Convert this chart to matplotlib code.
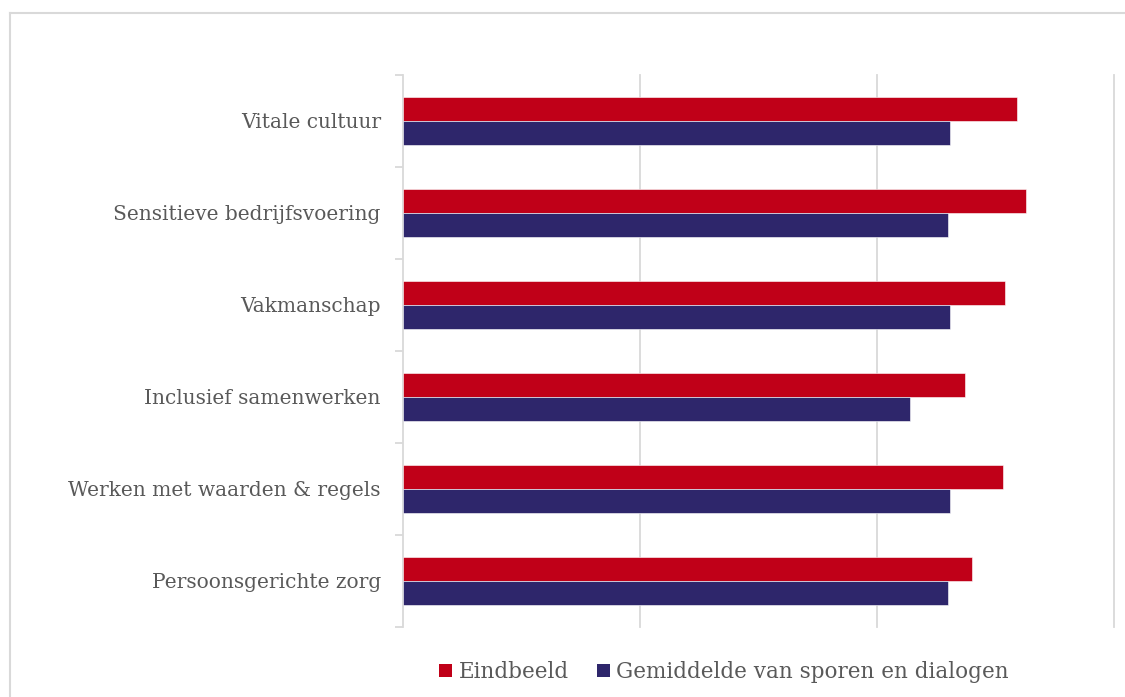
import matplotlib
matplotlib.use("Agg")
import matplotlib.pyplot as plt
from matplotlib.patches import Patch
from matplotlib.lines import Line2D
import numpy as np

categories = ["Vitale cultuur", "Sensitieve bedrijfsvoering", "Vakmanschap",
              "Inclusief samenwerken", "Werken met waarden & regels",
              "Persoonsgerichte zorg"]
eindbeeld = [2.59, 2.63, 2.54, 2.37, 2.53, 2.40]
gemiddelde = [2.31, 2.30, 2.31, 2.14, 2.31, 2.30]
series_names = ["Eindbeeld", "Gemiddelde van sporen en dialogen"]

RED = "#C00018"
BLUE = "#2E266B"
GRID = "#D9D9D9"
TXT = "#595959"
FONT = "DejaVu Serif"

W, H = 1125, 697
fig = plt.figure(figsize=(W / 100, H / 100), dpi=100)
ax = fig.add_axes([403 / W, 70 / H, 711 / W, 552 / H])

y = np.arange(len(categories))
h = 0.26
ax.barh(y - h / 2, eindbeeld, height=h, color=RED, edgecolor="white", linewidth=0.4, zorder=3)
ax.barh(y + h / 2, gemiddelde, height=h, color=BLUE, edgecolor="white", linewidth=0.4, zorder=3)

ax.set_xlim(0, 3)
ax.set_ylim(len(categories) - 0.5, -0.5)
ax.set_yticks(y)
ax.set_yticklabels(categories, fontsize=14.5, color=TXT, family=FONT)
ax.set_yticks(np.arange(-0.5, len(categories), 1), minor=True)
ax.tick_params(axis="y", which="major", length=0, pad=16)
ax.tick_params(axis="y", which="minor", length=6, width=1.3, color=GRID)
ax.set_xticks([1, 2, 3])
ax.set_xticklabels([])
ax.tick_params(axis="x", length=0)
ax.grid(axis="x", color=GRID, linewidth=1.3, zorder=0)
for s in ["top", "right", "bottom"]:
    ax.spines[s].set_visible(False)
ax.spines["left"].set_color(GRID)
ax.spines["left"].set_linewidth(1.3)
for gl in ax.get_xgridlines():
    gl.set_clip_on(False)

# outer frame
fig.add_artist(Line2D([10 / W, 1.0], [1 - 13 / H, 1 - 13 / H], color=GRID, linewidth=1.5, transform=fig.transFigure))
fig.add_artist(Line2D([10 / W, 10 / W], [0, 1 - 13 / H], color=GRID, linewidth=1.5, transform=fig.transFigure))

handles = [Patch(facecolor=RED, edgecolor="none"), Patch(facecolor=BLUE, edgecolor="none")]
leg = fig.legend(handles, series_names, loc="center", bbox_to_anchor=(724 / W, 1 - 672 / H),
                 ncol=2, frameon=False, handlelength=0.6, handleheight=0.6, handletextpad=0.3,
                 columnspacing=1.3, prop={"family": FONT, "size": 15.5})
for t in leg.get_texts():
    t.set_color(TXT)

fig.savefig("out.png", dpi=100)
